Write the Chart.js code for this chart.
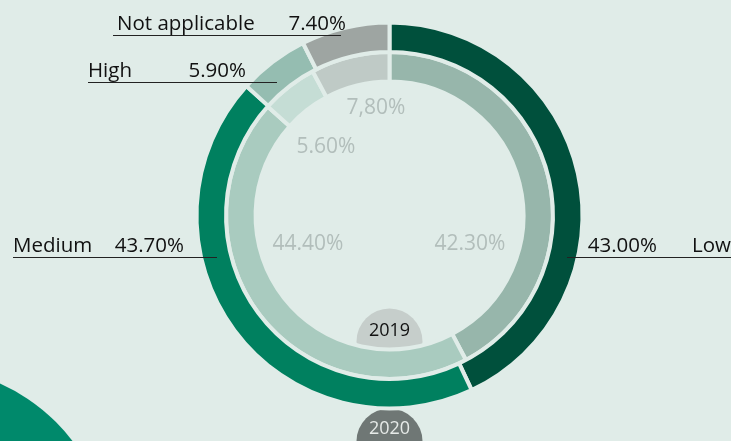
<!DOCTYPE html>
<html>
<head>
<meta charset="utf-8">
<script src="https://cdn.jsdelivr.net/npm/chart.js@4.4.1/dist/chart.umd.min.js"></script>
<style>
  html, body { margin: 0; padding: 0; background: #e0ece8; overflow: hidden; }
  #wrap { position: relative; width: 731px; height: 441px; }
  #blob { position: absolute; left: -265px; top: 367px; width: 376px; height: 376px; border-radius: 50%; background: #00896b; }
  canvas { position: absolute; left: 0; top: 0; }
</style>
</head>
<body>
<div id="wrap">
  <div id="blob"></div>
  <canvas id="ring" width="731" height="441"></canvas>
</div>
<script>
// data
const categories = ["Low", "Medium", "High", "Not applicable"];
const values2020 = [43.0, 43.7, 5.9, 7.4];
const values2019 = [42.3, 44.4, 5.6, 7.8];
const labels2019 = ["42.30%", "44.40%", "5.60%", "7,80%"];
const years = ["2020", "2019"];

const bg = "#e0ece8";
const outerColors = ["#00503c", "#00805f", "#95bdb1", "#9ea5a2"];
const innerColors = ["#97b6ab", "#a9cbbf", "#c5ddd5", "#bfcac6"];

// where the outer labels sit: text x, value right edge, line start/end, baseline
const outerLabelPos = [
    { tx: 692, vx: 657, y: 252, x1: 567, x2: 731 },
    { tx: 13, vx: 184, y: 252, x1: 13, x2: 217 },
    { tx: 88, vx: 246, y: 77, x1: 88, x2: 277 },
    { tx: 117, vx: 346, y: 30, x1: 113, x2: 341 }
];
const innerLabelPos = [[470, 244], [308, 244], [326, 147], [376, 108]];

const fmt = v => v.toFixed(2) + "%";

const decor = {
    id: "decor",
    beforeDatasetsDraw(chart) {
        const ctx = chart.ctx;
        const meta = chart.getDatasetMeta(0).data[0];
        const cx = meta.x, cy = meta.y;
        ctx.save();
        // year tabs (behind the rings)
        ctx.fillStyle = "#c6cecb";
        ctx.beginPath(); ctx.arc(cx, cy + 126, 33, 0, Math.PI * 2); ctx.fill();
        ctx.fillStyle = "#6f7775";
        ctx.beginPath(); ctx.arc(cx, cy + 226, 33, 0, Math.PI * 2); ctx.fill();
        ctx.restore();
    },
    afterDatasetsDraw(chart) {
        const ctx = chart.ctx;
        const meta = chart.getDatasetMeta(0).data[0];
        const cx = meta.x, cy = meta.y;
        ctx.save();
        ctx.textBaseline = "middle";
        ctx.textAlign = "center";
        ctx.font = "18px 'Open Sans'";
        ctx.fillStyle = "#111";
        ctx.fillText(years[1], cx, cy + 115);
        ctx.fillStyle = "#e6eae8";
        ctx.fillText(years[0], cx, cy + 213);

        // inner values
        ctx.font = "21px 'Open Sans'";
        ctx.fillStyle = "#b2bebb";
        labels2019.forEach((t, i) => ctx.fillText(t, innerLabelPos[i][0], innerLabelPos[i][1]));

        // outer labels with underline
        ctx.textBaseline = "alphabetic";
        ctx.font = "20.5px 'Open Sans'";
        ctx.fillStyle = "#111";
        ctx.strokeStyle = "#222";
        ctx.lineWidth = 1.2;
        categories.forEach((name, i) => {
            const p = outerLabelPos[i];
            ctx.textAlign = "left";
            ctx.fillText(name, p.tx, p.y);
            ctx.textAlign = "right";
            ctx.fillText(fmt(values2020[i]), p.vx, p.y);
            ctx.beginPath();
            ctx.moveTo(p.x1, p.y + 5.5);
            ctx.lineTo(p.x2, p.y + 5.5);
            ctx.stroke();
        });
        ctx.restore();
    }
};

new Chart(document.getElementById("ring"), {
    type: "doughnut",
    data: {
        labels: categories,
        datasets: [
            { label: years[0], data: values2020, backgroundColor: outerColors, borderColor: bg, borderWidth: 4 },
            { label: years[1], data: values2019, backgroundColor: innerColors, borderColor: bg, borderWidth: 4 }
        ]
    },
    options: {
        responsive: false,
        animation: false,
        radius: 193,
        cutout: "69.4%",
        layout: { padding: { left: 48, right: 0, top: 0, bottom: 10 } },
        plugins: { legend: { display: false }, tooltip: { enabled: false } }
    },
    plugins: [decor]
});
</script>
</body>
</html>
